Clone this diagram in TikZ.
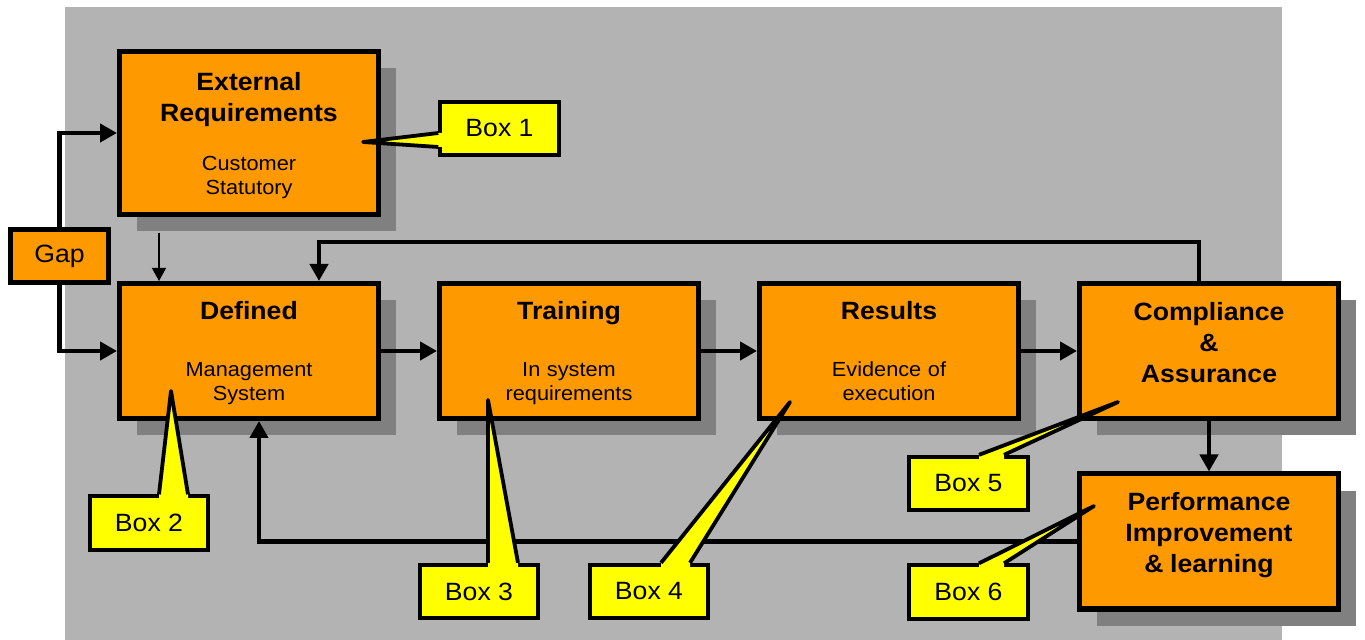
\documentclass[tikz,border=0pt]{standalone}
\usepackage{fontspec}
\setmainfont{Liberation Sans}[FakeStretch=1.065]
\usetikzlibrary{arrows.meta,shadows}
\definecolor{bggray}{HTML}{B3B3B3}
\definecolor{shadowgray}{HTML}{808080}
\definecolor{boxorange}{HTML}{FF9900}
\definecolor{noteyellow}{HTML}{FFFF00}
\newcommand{\boxtitle}{\fontsize{12.5}{15.5}\selectfont\bfseries}
\newcommand{\boxsub}{\fontsize{10.2}{12}\selectfont}

\begin{document}
\begin{tikzpicture}[x=0.5pt,y=-0.5pt,
    block/.style={draw=black,line width=2.5pt,fill=boxorange,minimum width=129.5pt,minimum height=67.5pt,
        inner sep=0pt,text width=124pt,align=center,
        drop shadow={shadow xshift=8.5pt,shadow yshift=-8.5pt,fill=shadowgray,opacity=1}},
    gapbox/.style={draw=black,line width=2.5pt,fill=boxorange,minimum width=49pt,minimum height=26.5pt,
        inner sep=0pt,font=\fontsize{12.5}{15}\selectfont},
    note/.style={draw=black,line width=1.9pt,fill=noteyellow,minimum width=59.25pt,minimum height=26.75pt,
        inner sep=0pt,font=\fontsize{12.5}{15}\selectfont},
    flow/.style={line width=2.25pt,-{Triangle[length=8.5pt,width=9pt]}},
    thinflow/.style={line width=0.6pt,-{Triangle[length=6.5pt,width=7pt]}},
    pointer/.style={line width=1.9pt,line join=round}]
\useasboundingbox (0,0) rectangle (1365,640);
\fill[bggray] (65,7) rectangle (1282,640);

% main boxes
\node[block,minimum height=81.5pt] (ext) at (249,133)
    {{\boxtitle External\\Requirements\par}\vspace{12.5pt}{\boxsub Customer\\\smash{Statutory}\par}};
\node[gapbox] (gap) at (59.5,256) {Gap};
\node[block] (defined) at (249,351)
    {{\boxtitle Defined\par}\vspace{16.5pt}{\boxsub Management\\\smash{System}\par}};
\node[block] (training) at (569,351)
    {{\boxtitle Training\par}\vspace{16.5pt}{\boxsub In system\\\smash{requirements}\par}};
\node[block] (results) at (889,351)
    {{\boxtitle Results\par}\vspace{16.5pt}{\boxsub Evidence of\\execution\par}};
\node[block] (compliance) at (1209,351)
    {{\boxtitle Compliance\\\&\\Assurance\rule[-9pt]{0pt}{9pt}\par}};
\node[block] (perf) at (1209,541.5)
    {{\boxtitle Performance\\Improvement\\\& learning\rule[-8.6pt]{0pt}{8.6pt}\par}};

% arrows
\draw[flow] (gap.north) |- (ext.west);
\draw[flow] (gap.south) |- (defined.west);
\coordinate (extfoot) at ([xshift=-45pt,yshift=-8pt]ext.south);
\draw[thinflow] (extfoot) -- (extfoot |- defined.north);
\draw[flow] (defined.east) -- (training.west);
\draw[flow] (training.east) -- (results.west);
\draw[flow] (results.east) -- (compliance.west);
\draw[flow] (compliance.south) -- (perf.north);
\draw[flow] ([xshift=-5pt]compliance.north) -- ++(0,19.5pt) -| ([xshift=35pt]defined.north);
\draw[flow] (perf.west) -| ([xshift=5pt]defined.south);

% callouts
\node[note] (box1) at (499.5,128.5) {Box 1};
\node[note] (box2) at (149,523) {Box 2};
\node[note] (box3) at (479,591.5) {Box 3};
\node[note] (box4) at (649,591.5) {Box 4};
\node[note] (box5) at (968.5,483.5) {Box 5};
\node[note] (box6) at (968.5,592) {Box 6};
\coordinate (tip1) at (363,142);
\coordinate (tip2) at (171,391);
\coordinate (tip3) at (488,400);
\coordinate (tip4) at (790,402);
\coordinate (tip5) at (1118,402);
\coordinate (tip6) at (1094,506);

\fill[noteyellow] ([xshift=2pt,yshift=-2.25pt]box1.west) -- ([yshift=-2.25pt]box1.west) -- (tip1)
    -- ([yshift=-9.25pt]box1.west) -- ([xshift=2pt,yshift=-9.25pt]box1.west) -- cycle;
\draw[pointer] ([yshift=-2.25pt]box1.west) -- (tip1) -- ([yshift=-9.25pt]box1.west);
\foreach \c/\l/\r/\t in {box2/5pt/19.5pt/tip2,box3/4.5pt/19.5pt/tip3,box4/6pt/20.5pt/tip4,
        box5/5.25pt/17.75pt/tip5,box6/5.25pt/17.75pt/tip6}{
    \fill[noteyellow] ([xshift=\l,yshift=-2pt]\c.north) -- ([xshift=\l]\c.north) -- (\t)
        -- ([xshift=\r]\c.north) -- ([xshift=\r,yshift=-2pt]\c.north) -- cycle;
    \draw[pointer] ([xshift=\l]\c.north) -- (\t) -- ([xshift=\r]\c.north);
}
\end{tikzpicture}
\end{document}
